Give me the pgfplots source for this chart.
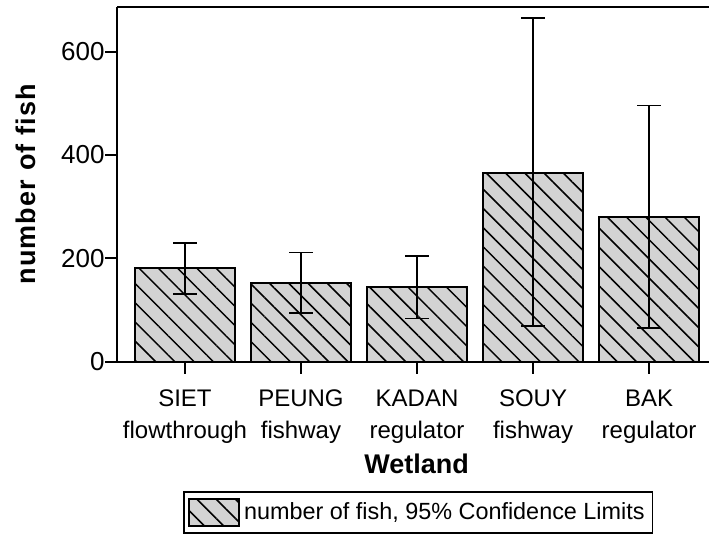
\documentclass[border=0pt]{standalone}
\usepackage{pgfplots}
\usepackage{pgfplotstable}
\pgfplotsset{compat=1.18}
\usepackage{fontspec}
\setmainfont{Liberation Sans}
\usetikzlibrary{patterns.meta}
\definecolor{barfill}{RGB}{211,211,211}

\pgfplotsset{hatch legend/.style={legend image code/.code={\draw[##1] (0pt,-6.75pt) rectangle (25pt,6.75pt);}}}

% mean number of fish per wetland with 95% confidence limits
\pgfplotstableread{
x  y    ep   em
0  182  48   51
1  152  59   58
2  145  60   61
3  366  299  297
4  281  215  216
}\fishdata

\begin{document}
\begin{tikzpicture}
\begin{axis}[
  name=ax,
  scale only axis,
  width=296pt, height=177.5pt,
  xmin=-0.586, xmax=4.517,
  ymin=0, ymax=687,
  axis x line*=box, axis y line*=left,
  xtick align=outside, ytick align=outside,
  axis line style={-, line width=1pt},
  xtick={0,1,2,3,4},
  xticklabels={SIET\\flowthrough, PEUNG\\fishway, KADAN\\regulator, SOUY\\fishway, BAK\\regulator},
  xtick pos=lower, ytick pos=left,
  ytick={0,200,400,600},
  major tick length=6pt,
  tick style={line width=1pt, black},
  /pgf/number format/assume math mode=true,
  xticklabel style={font=\fontsize{12}{16}\selectfont, align=center, anchor=north,
    inner sep=0pt, yshift=-8pt},
  yticklabel style={font=\fontsize{13}{16}\selectfont, anchor=east, inner sep=0pt},
  xlabel={Wetland}, ylabel={number of fish},
  label style={font=\bfseries\fontsize{13.5}{16}\selectfont},
  xlabel style={at={(axis description cs:0.506,-0.3135)}, anchor=base, inner sep=0pt},
  ylabel style={at={(axis description cs:-0.1385,0.5)}, anchor=base, inner sep=0pt,
    font=\bfseries\fontsize{13.5}{16}\selectfont\addfontfeature{LetterSpace=4.5}},
  legend style={at={(axis description cs:0.509,-0.425)}, anchor=center,
    draw=black, line width=0.8pt, font=\fontsize{11.7}{14}\selectfont,
    inner xsep=2pt, inner ysep=3pt},
  legend cell align=left,
]
\addplot[ybar, bar width=0.86, draw=black, line width=1pt, fill=barfill,
  postaction={pattern={Lines[angle=-45, distance=6.8pt, line width=0.75pt]}},
  hatch legend,
  error bars/.cd, y dir=both, y explicit,
  error bar style={line width=0.75pt, black},
  error mark options={rotate=90, mark size=5.8pt, line width=0.75pt, black}]
  table[x=x, y=y, y error plus=ep, y error minus=em] {\fishdata};
\addlegendentry{number of fish, 95\% Confidence Limits}
\end{axis}
\pgfresetboundingbox
\path ([shift={(-58.5pt,-85.65pt)}]ax.south west) rectangle ([shift={(0pt,3.35pt)}]ax.north east);
\end{tikzpicture}
\end{document}
